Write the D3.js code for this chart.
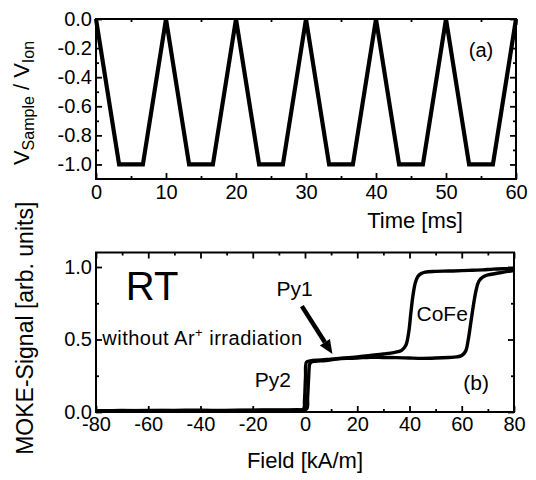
<!DOCTYPE html>
<html>
<head>
<meta charset="utf-8">
<script src="https://cdn.jsdelivr.net/npm/d3@7"></script>
<style>
  html, body { margin: 0; padding: 0; background: #fff; }
  svg { display: block; font-family: "Liberation Sans", Arial, sans-serif; }
</style>
</head>
<body>
<svg id="chart" width="536" height="480"></svg>
<script>
// ---- Panel (a): sample voltage waveform ----
const waveTime  = [0, 3.3, 6.7, 10, 13.3, 16.7, 20, 23.3, 26.7, 30, 33.3, 36.7, 40, 43.3, 46.7, 50, 53.3, 56.7, 60];
const waveValue = [0, -1, -1, 0, -1, -1, 0, -1, -1, 0, -1, -1, 0, -1, -1, 0, -1, -1, 0];
const timeTicks = [0, 10, 20, 30, 40, 50, 60];
const timeMinorTicks = [5, 15, 25, 35, 45, 55];
const voltTicks = [0.0, -0.2, -0.4, -0.6, -0.8, -1.0];
const voltMinorTicks = [-0.1, -0.3, -0.5, -0.7, -0.9];

// ---- Panel (b): MOKE hysteresis, two sweep branches ----
const upField  = [-80, -70, -60, -50, -40, -30, -20, -10, -3, 0.6, 1.0, 1.4, 1.8, 2.4, 4, 8, 12, 16, 20, 25, 30, 35, 40, 45, 50, 55, 58, 60, 61.5, 62.5, 63.5, 64.5, 65.5, 66.5, 68, 70, 73, 76, 80];
const upSignal = [0.008, 0.010, 0.009, 0.011, 0.012, 0.011, 0.013, 0.014, 0.016, 0.02, 0.10, 0.24, 0.33, 0.345, 0.35, 0.355, 0.365, 0.37, 0.372, 0.378, 0.376, 0.375, 0.372, 0.370, 0.372, 0.376, 0.38, 0.39, 0.42, 0.50, 0.62, 0.74, 0.84, 0.90, 0.93, 0.945, 0.955, 0.965, 0.975];
const downField  = [80, 76, 72, 68, 64, 60, 55, 50, 46, 44.5, 43.2, 42.2, 41.3, 40.5, 39.7, 38.6, 37, 34, 30, 25, 20, 15, 10, 5, 2, 0.6, 0.2, -0.2, -0.6, -5, -20, -40, -60, -80];
const downSignal = [0.99, 0.988, 0.985, 0.98, 0.978, 0.975, 0.972, 0.97, 0.965, 0.955, 0.935, 0.89, 0.80, 0.68, 0.55, 0.46, 0.425, 0.41, 0.40, 0.39, 0.38, 0.372, 0.365, 0.358, 0.352, 0.345, 0.24, 0.08, 0.02, 0.012, 0.01, 0.009, 0.01, 0.009];
const fieldTicks = [-80, -60, -40, -20, 0, 20, 40, 60, 80];
const fieldMinorTicks = [-70, -50, -30, -10, 10, 30, 50, 70];
const mokeTicks = [0.0, 0.5, 1.0];
const mokeMinorTicks = [0.25, 0.75];

const svg = d3.select("#chart");
const FRAME_W = 2;

// Frame with inward ticks on all four sides, labels on bottom and left
function drawFrame(x, y, xt, xm, yt, ym, xfmt, yfmt, xPad) {
  const [x0, x1] = x.range();
  const [y0, y1] = y.range(); // y0 bottom, y1 top
  const g = svg.append("g");

  const styleAxis = sel => {
    sel.select(".domain").remove();
    sel.selectAll(".tick line").attr("stroke", "#000").attr("stroke-width", 1.8);
    sel.selectAll(".tick text").attr("fill", "#000").style("font-size", "20px")
       .style("font-family", "'Liberation Sans', Arial, sans-serif");
  };

  g.append("g").attr("transform", `translate(0,${y0})`)
    .call(d3.axisBottom(x).tickValues(xt).tickSize(-6).tickPadding(xPad).tickFormat(xfmt)).call(styleAxis);
  g.append("g").attr("transform", `translate(0,${y0})`)
    .call(d3.axisBottom(x).tickValues(xm).tickSize(-3).tickFormat("")).call(styleAxis);
  g.append("g").attr("transform", `translate(0,${y1})`)
    .call(d3.axisTop(x).tickValues(xt).tickSize(-6).tickFormat("")).call(styleAxis);
  g.append("g").attr("transform", `translate(0,${y1})`)
    .call(d3.axisTop(x).tickValues(xm).tickSize(-3).tickFormat("")).call(styleAxis);

  g.append("g").attr("transform", `translate(${x0},0)`)
    .call(d3.axisLeft(y).tickValues(yt).tickSize(-6).tickPadding(4).tickFormat(yfmt)).call(styleAxis);
  g.append("g").attr("transform", `translate(${x0},0)`)
    .call(d3.axisLeft(y).tickValues(ym).tickSize(-3).tickFormat("")).call(styleAxis);
  g.append("g").attr("transform", `translate(${x1},0)`)
    .call(d3.axisRight(y).tickValues(yt).tickSize(-6).tickFormat("")).call(styleAxis);
  g.append("g").attr("transform", `translate(${x1},0)`)
    .call(d3.axisRight(y).tickValues(ym).tickSize(-3).tickFormat("")).call(styleAxis);

  g.append("rect")
    .attr("x", x0).attr("y", y1).attr("width", x1 - x0).attr("height", y0 - y1)
    .attr("fill", "none").attr("stroke", "#000").attr("stroke-width", FRAME_W);
  return g;
}

// ================= Panel (a) =================
const xA = d3.scaleLinear().domain([0, 60]).range([96, 516]);
const yA = d3.scaleLinear().domain([-1.1, 0]).range([179, 19]);

drawFrame(xA, yA, timeTicks, timeMinorTicks, voltTicks, voltMinorTicks,
  d => String(d), d => d.toFixed(1), 6);

const waveLine = d3.line().x((d, i) => xA(waveTime[i])).y(d => yA(d));
svg.append("path")
  .attr("d", waveLine(waveValue))
  .attr("fill", "none").attr("stroke", "#000")
  .attr("stroke-width", 4.2).attr("stroke-linejoin", "miter");

svg.append("text").attr("x", 481).attr("y", 57)
  .attr("text-anchor", "middle").style("font-size", "20px").text("(a)");

svg.append("text").attr("x", 415).attr("y", 228)
  .attr("text-anchor", "middle").style("font-size", "22px").text("Time [ms]");

const ttlA = svg.append("text")
  .attr("transform", `translate(29,${(yA.range()[0] + yA.range()[1]) / 2 + 4}) rotate(-90)`)
  .attr("text-anchor", "middle").style("font-size", "22px");
ttlA.append("tspan").text("V");
ttlA.append("tspan").attr("dy", 5).style("font-size", "16px").text("Sample");
ttlA.append("tspan").attr("dy", -5).text(" / V");
ttlA.append("tspan").attr("dy", 5).style("font-size", "16px").text("Ion");

// ================= Panel (b) =================
const xB = d3.scaleLinear().domain([-80, 80]).range([96, 514]);
const yB = d3.scaleLinear().domain([0, 1.1]).range([412, 252.5]);

drawFrame(xB, yB, fieldTicks, fieldMinorTicks, mokeTicks, mokeMinorTicks,
  d => String(d), d => d.toFixed(1), 5);

const loopLine = d3.line().curve(d3.curveCatmullRom.alpha(0.5));
const upPts = upField.map((f, i) => [xB(f), yB(upSignal[i])]);
const downPts = downField.map((f, i) => [xB(f), yB(downSignal[i])]);
[upPts, downPts].forEach(pts => {
  svg.append("path").attr("d", loopLine(pts))
    .attr("fill", "none").attr("stroke", "#000")
    .attr("stroke-width", 3.4).attr("stroke-linejoin", "round");
});

// Annotations
const rtPos = [-58.5, 0.77];
svg.append("text").attr("x", xB(rtPos[0])).attr("y", yB(rtPos[1]))
  .attr("text-anchor", "middle").style("font-size", "40px").text("RT");

const irrText = svg.append("text").attr("x", xB(-77.6)).attr("y", yB(0.46))
  .style("font-size", "20px").style("letter-spacing", "0.5px");
irrText.append("tspan").text("without Ar");
irrText.append("tspan").attr("dy", -8).style("font-size", "13px").text("+");
irrText.append("tspan").attr("dy", 8).text(" irradiation");

svg.append("text").attr("x", xB(-4)).attr("y", yB(0.80))
  .attr("text-anchor", "middle").style("font-size", "21px").text("Py1");
svg.append("text").attr("x", xB(-12.3)).attr("y", yB(0.17))
  .attr("text-anchor", "middle").style("font-size", "21px").text("Py2");
svg.append("text").attr("x", xB(52.5)).attr("y", yB(0.63))
  .attr("text-anchor", "middle").style("font-size", "21px").text("CoFe");
svg.append("text").attr("x", xB(65.5)).attr("y", yB(0.155))
  .attr("text-anchor", "middle").style("font-size", "21px").text("(b)");

// Arrow pointing at the Py1 switching step
const arrowFrom = [-1.2, 0.73];
const arrowTo = [10.5, 0.40];
const ax0 = xB(arrowFrom[0]), ay0 = yB(arrowFrom[1]);
const ax1 = xB(arrowTo[0]), ay1 = yB(arrowTo[1]);
const ang = Math.atan2(ay1 - ay0, ax1 - ax0);
const headLen = 14, headW = 6;
const bx = ax1 - headLen * Math.cos(ang), by = ay1 - headLen * Math.sin(ang);
svg.append("line").attr("x1", ax0).attr("y1", ay0).attr("x2", bx).attr("y2", by)
  .attr("stroke", "#000").attr("stroke-width", 4.5);
svg.append("path")
  .attr("d", `M${ax1},${ay1} L${bx + headW * Math.sin(ang)},${by - headW * Math.cos(ang)} L${bx - headW * Math.sin(ang)},${by + headW * Math.cos(ang)} Z`)
  .attr("fill", "#000");

svg.append("text").attr("x", 305).attr("y", 468)
  .attr("text-anchor", "middle").style("font-size", "22px").text("Field [kA/m]");

svg.append("text")
  .attr("transform", `translate(33,${(yB.range()[0] + yB.range()[1]) / 2 - 4}) rotate(-90)`)
  .attr("text-anchor", "middle").style("font-size", "23px").text("MOKE-Signal [arb. units]");
</script>
</body>
</html>
